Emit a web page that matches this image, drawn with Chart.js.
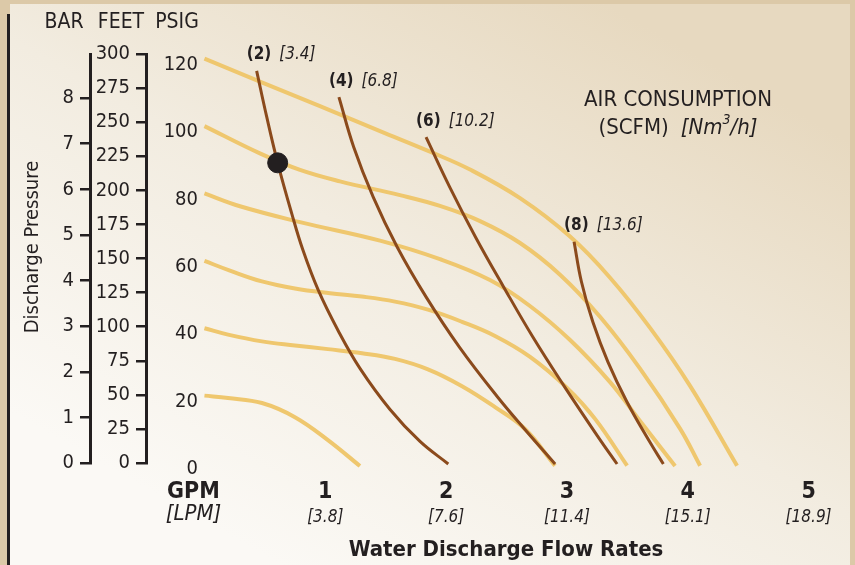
<!DOCTYPE html>
<html>
<head>
<meta charset="utf-8">
<script src="https://cdn.jsdelivr.net/npm/chart.js@4.4.0/dist/chart.umd.min.js"></script>
<style>
  html, body { margin: 0; padding: 0; background: #dcc9a8; }
  #wrap { width: 855px; height: 565px; }
</style>
</head>
<body>
<div id="wrap"><canvas id="pumpChart" width="855" height="565"></canvas></div>
<script>
const FONT = "'Liberation Sans Narrow', 'DejaVu Sans Condensed', 'Liberation Sans', sans-serif";
const INK = '#231f20';
const YELLOW = '#efc76e';
const BROWN = '#8b4a1c';

// axis ticks
const gpmTicks = [0, 1, 2, 3, 4, 5];
const lpmTicks = ['[LPM]', '[3.8]', '[7.6]', '[11.4]', '[15.1]', '[18.9]'];
const psigTicks = [0, 20, 40, 60, 80, 100, 120];
const feetTicks = [0, 25, 50, 75, 100, 125, 150, 175, 200, 225, 250, 275, 300];
const barTicks = [0, 1, 2, 3, 4, 5, 6, 7, 8];

// inlet air pressure curves (GPM, PSIG)
const psi120 = [[0,120],[0.459,113.2],[0.956,105.9],[1.453,98.5],[1.867,92.4],[2.198,87.1],[2.612,78.6],[3.026,67.2],[3.357,55.0],[3.688,40.1],[4.019,22.9],[4.408,-0.8]];
const psi100 = [[0,100],[0.459,91.9],[0.791,87.0],[1.122,83.6],[1.618,79.5],[1.949,76.3],[2.281,71.8],[2.612,65.3],[2.943,55.9],[3.274,43.4],[3.605,28.0],[3.936,10.2],[4.102,-0.8]];
const psi80 = [[0,80],[0.294,76.2],[0.791,71.5],[1.453,66.0],[1.949,60.5],[2.363,54.3],[2.694,46.6],[3.026,36.5],[3.357,24.0],[3.605,12.5],[3.895,-0.9]];
const psi60 = [[0,60],[0.211,57.1],[0.476,53.9],[0.749,51.8],[1.039,50.4],[1.304,49.4],[1.577,47.9],[1.850,45.5],[2.132,41.9],[2.405,37.7],[2.695,31.5],[3.001,22.3],[3.233,13.1],[3.498,-0.8]];
const psi40 = [[0,40],[0.195,38.1],[0.476,36.1],[0.749,34.9],[1.022,33.8],[1.304,32.6],[1.577,30.9],[1.850,27.8],[2.132,22.8],[2.405,16.6],[2.653,10.1],[2.901,-0.8]];
const psi20 = [[0,20],[0.195,19.3],[0.476,17.8],[0.749,13.6],[1.022,6.8],[1.287,-0.9]];

// air consumption curves (GPM, PSIG)
const scfm2 = [[0.432,116.4],[0.515,102.8],[0.606,89.1],[0.722,74.1],[0.815,63.2],[0.942,51.3],[1.108,39.2],[1.287,28.1],[1.536,15.9],[1.784,6.4],[2.018,-0.3]];
const scfm4 = [[1.113,108.6],[1.235,93.8],[1.397,78.9],[1.595,64.1],[1.834,49.3],[2.110,34.4],[2.426,19.6],[2.656,9.8],[2.902,-0.3]];
const scfm6 = [[1.834,96.7],[2.030,81.9],[2.243,67.1],[2.477,52.2],[2.718,37.4],[2.981,22.6],[3.259,7.7],[3.415,-0.3]];
const scfm8 = [[3.059,65.7],[3.120,53.8],[3.214,41.9],[3.339,30.0],[3.496,18.2],[3.685,6.3],[3.798,-0.3]];
const scfmLabels = ['(2)', '(4)', '(6)', '(8)'];
const nm3hLabels = ['[3.4]', '[6.8]', '[10.2]', '[13.6]'];

const operatingPoint = [[0.606, 89.1]];

const toXY = arr => arr.map(p => ({ x: p[0], y: p[1] }));

const inletCurves = [psi120, psi100, psi80, psi60, psi40, psi20];
const airCurves = [scfm2, scfm4, scfm6, scfm8];

const datasets = [];
datasets.push({
    data: toXY(operatingPoint), showLine: false, pointRadius: 10,
    pointBackgroundColor: INK, pointBorderColor: INK, order: 0, clip: false
});
airCurves.forEach(c => datasets.push({
    data: toXY(c), borderColor: BROWN, borderWidth: 3, pointRadius: 0,
    tension: 0.4, order: 1, clip: false
}));
inletCurves.forEach(c => datasets.push({
    data: toXY(c), borderColor: YELLOW, borderWidth: 4, pointRadius: 0,
    tension: 0.4, order: 2, clip: false
}));

const fixTicks = list => scale => { scale.ticks = list.map(v => ({ value: v })); };

const backdrop = {
    id: 'backdrop',
    beforeDraw(chart) {
        const ctx = chart.ctx;
        ctx.save();
        ctx.fillStyle = '#dcc9a8';
        ctx.fillRect(0, 0, 855, 565);
        const g = ctx.createLinearGradient(280, 565, 600, 0);
        g.addColorStop(0, '#fbf9f5');
        g.addColorStop(0.5, '#f2ece0');
        g.addColorStop(1, '#e7d9c0');
        ctx.fillStyle = g;
        ctx.fillRect(10, 4, 840, 561);
        ctx.fillStyle = INK;
        ctx.fillRect(7, 14, 3, 551);
        ctx.restore();
    }
};

function txt(ctx, s, x, y, font, align) {
    ctx.font = font;
    ctx.textAlign = align || 'center';
    ctx.fillText(s, x, y);
}

const labels = {
    id: 'labels',
    afterDatasetsDraw(chart) {
        const ctx = chart.ctx;
        const xs = chart.scales.x;
        const ys = chart.scales.y;
        ctx.save();
        ctx.fillStyle = INK;
        ctx.textBaseline = 'middle';

        // axis headers
        txt(ctx, 'BAR', 64, 23, '21px ' + FONT);
        txt(ctx, 'FEET', 121, 23, '21px ' + FONT);
        txt(ctx, 'PSIG', 177, 23, '21px ' + FONT);

        // vertical title
        ctx.save();
        ctx.translate(33, 247);
        ctx.rotate(-Math.PI / 2);
        txt(ctx, 'Discharge Pressure', 0, 0, '20px ' + FONT);
        ctx.restore();

        // x tick labels (the 0 comes from the PSIG axis)
        gpmTicks.forEach((v, i) => {
            const px = xs.getPixelForValue(v);
            if (v === 0) {
                txt(ctx, 'GPM', px - 11, 492, 'bold 23px ' + FONT);
                txt(ctx, lpmTicks[i], px - 11, 514, 'italic 22px ' + FONT);
            } else {
                txt(ctx, String(v), px, 492, 'bold 23px ' + FONT);
                txt(ctx, lpmTicks[i], px, 518, 'italic 17px ' + FONT);
            }
        });
        txt(ctx, 'Water Discharge Flow Rates', 506, 550, 'bold 22px ' + FONT);

        // air consumption curve labels
        airCurves.forEach((c, i) => {
            const px = xs.getPixelForValue(c[0][0]) - 10;
            const py = ys.getPixelForValue(c[0][1]) - 16;
            ctx.font = 'bold 17px ' + FONT;
            ctx.textAlign = 'left';
            ctx.fillText(scfmLabels[i], px, py);
            const w = ctx.measureText(scfmLabels[i]).width;
            ctx.font = 'italic 17px ' + FONT;
            ctx.fillText(nm3hLabels[i], px + w + 8, py);
        });

        // air consumption legend text
        txt(ctx, 'AIR CONSUMPTION', 678, 100, '22px ' + FONT);
        const parts = [
            ['(SCFM)', '22px ' + FONT, 0, 12],
            ['[Nm', 'italic 22px ' + FONT, 0, 0],
            ['3', 'italic 14px ' + FONT, -8, 0],
            ['/h]', 'italic 22px ' + FONT, 0, 0]
        ];
        let total = 0;
        parts.forEach(p => { ctx.font = p[1]; total += ctx.measureText(p[0]).width + p[3]; });
        let cx = 678 - total / 2;
        ctx.textAlign = 'left';
        parts.forEach(p => {
            ctx.font = p[1];
            ctx.fillText(p[0], cx, 128 + p[2]);
            cx += ctx.measureText(p[0]).width + p[3];
        });
        ctx.restore();
    }
};

const axisFont = { family: FONT, size: 20 };

new Chart(document.getElementById('pumpChart'), {
    type: 'line',
    data: { datasets: datasets },
    options: {
        responsive: false,
        animation: false,
        devicePixelRatio: 1,
        events: [],
        layout: { padding: { left: 40, top: 54, right: 15, bottom: 0 } },
        plugins: { legend: { display: false }, tooltip: { enabled: false } },
        scales: {
            x: {
                type: 'linear', min: -0.012, max: 5.26,
                grid: { display: false }, border: { display: false },
                ticks: { display: false },
                afterFit: s => { s.height = 102; }
            },
            y: {
                position: 'left', weight: 1, min: 0, max: 121.4,
                afterBuildTicks: fixTicks(psigTicks),
                grid: { display: false, drawTicks: false }, border: { display: false },
                ticks: { color: INK, font: axisFont, padding: 5, labelOffset: 6 },
                afterFit: s => { s.width = 57; }
            },
            feet: {
                position: 'left', weight: 2, min: 0, max: 300,
                afterBuildTicks: fixTicks(feetTicks),
                grid: { drawOnChartArea: false, drawTicks: true, tickLength: 10, lineWidth: 2.5, color: INK },
                border: { display: true, color: INK, width: 3 },
                ticks: { color: INK, font: axisFont, padding: 6 },
                afterFit: s => { s.width = 56; }
            },
            bar: {
                position: 'left', weight: 3, min: 0, max: 8.967,
                afterBuildTicks: fixTicks(barTicks),
                grid: { drawOnChartArea: false, drawTicks: true, tickLength: 10, lineWidth: 2.5, color: INK },
                border: { display: true, color: INK, width: 3 },
                ticks: { color: INK, font: axisFont, padding: 6 },
                afterFit: s => { s.width = 50; }
            }
        }
    },
    plugins: [backdrop, labels]
});
</script>
</body>
</html>
